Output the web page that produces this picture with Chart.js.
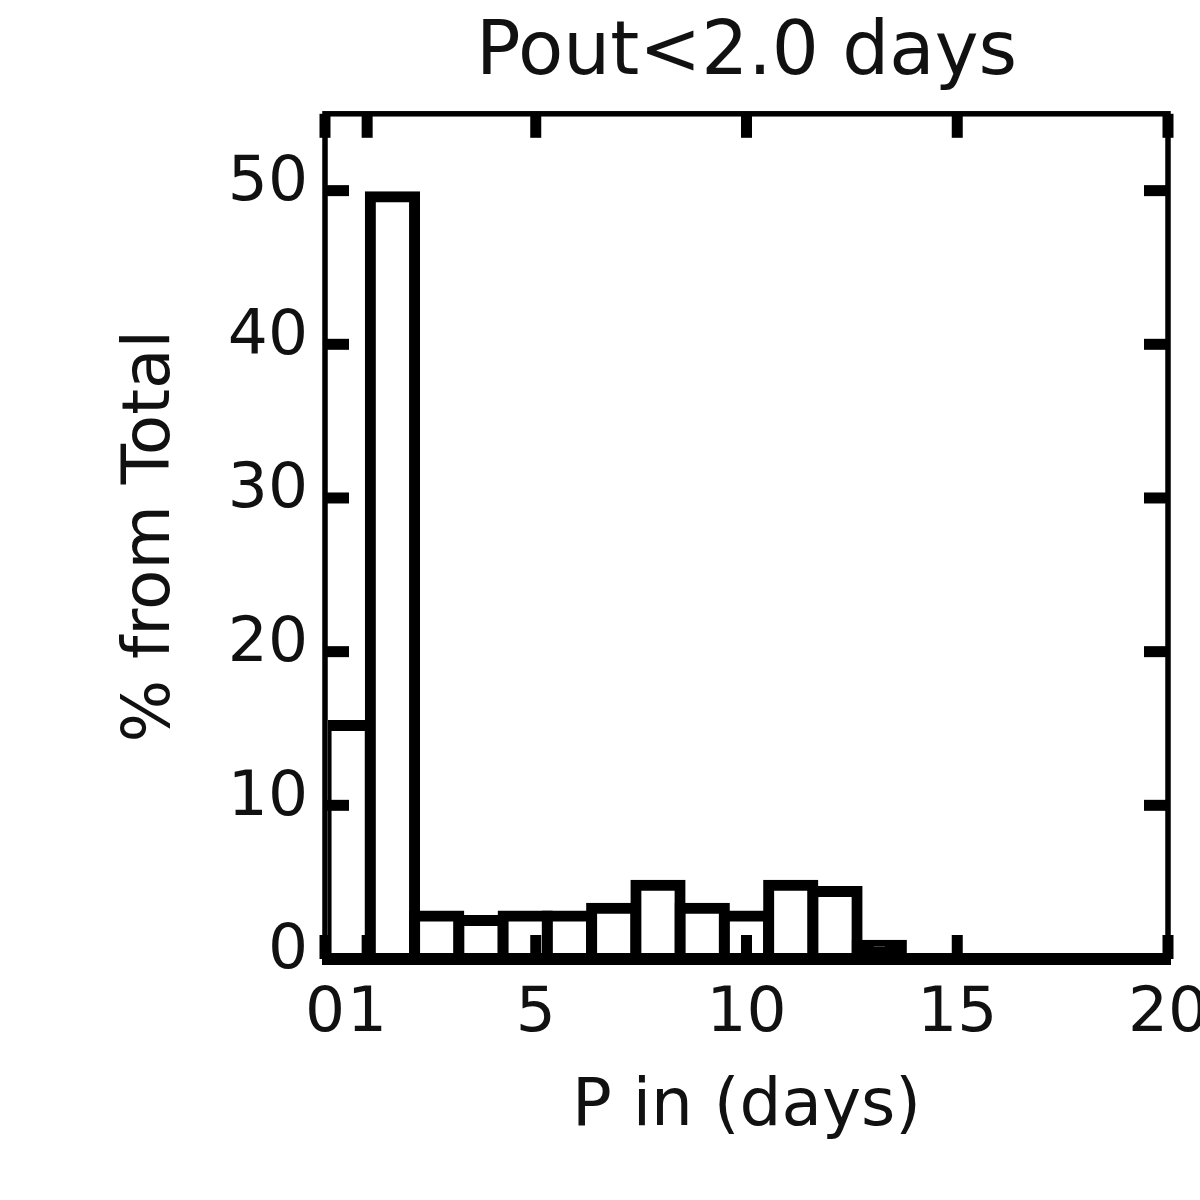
<!DOCTYPE html>
<html>
<head>
<meta charset="utf-8">
<script src="https://cdn.jsdelivr.net/npm/chart.js@4.4.0/dist/chart.umd.min.js"></script>
<style>
  html, body { margin: 0; padding: 0; background: #fff; }
  #wrap { width: 1200px; height: 1200px; }
</style>
</head>
<body>
<div id="wrap"><canvas id="histo" width="1200" height="1200"></canvas></div>
<script>
// histogram bins (centres, days) and share of total (%)
const binCenters = [0.55, 1.6, 2.65, 3.7, 4.75, 5.8, 6.85, 7.9, 8.95, 10.0, 11.05, 12.1, 13.15];
const percents   = [15.2, 49.6, 2.8, 2.5, 2.8, 2.8, 3.3, 4.8, 3.3, 2.8, 4.8, 4.4, 0.9];
const xTicks = [0, 1, 5, 10, 15, 20];
const yTicks = [0, 10, 20, 30, 40, 50];

const INK = '#111';
const EDGE = 11;

Chart.defaults.font.family = "'DejaVu Sans', sans-serif";
Chart.defaults.color = INK;

// box + inward tick marks on all four sides
const frame = {
    id: 'frame',
    afterDatasetsDraw(chart) {
        const ctx = chart.ctx;
        const a = chart.chartArea;
        const xt = chart.scales.xt;
        const y = chart.scales.y;
        const len = 24;
        const seg = (x1, y1, x2, y2) => {
            ctx.beginPath(); ctx.moveTo(x1, y1); ctx.lineTo(x2, y2); ctx.stroke();
        };
        ctx.save();
        ctx.strokeStyle = '#000';
        ctx.lineWidth = 5.5;
        ctx.strokeRect(a.left, a.top, a.right - a.left, a.bottom - a.top);
        // zero line is drawn as thick as the bar edges
        ctx.lineWidth = 12;
        const y0 = y.getPixelForValue(0);
        seg(a.left - 3, y0, a.right + 3, y0);
        ctx.lineWidth = EDGE;
        xt.ticks.forEach(t => {
            const px = xt.getPixelForValue(t.value);
            seg(px, a.bottom, px, a.bottom - len);
            seg(px, a.top, px, a.top + len);
        });
        y.ticks.forEach(t => {
            const py = y.getPixelForValue(t.value);
            seg(a.left, py, a.left + len, py);
            seg(a.right, py, a.right - len, py);
        });
        ctx.restore();
    }
};

new Chart(document.getElementById('histo'), {
    type: 'bar',
    data: {
        datasets: [{
            data: binCenters.map((c, i) => ({ x: c, y: percents[i] })),
            xAxisID: 'x',
            yAxisID: 'y',
            backgroundColor: (c) => {
                if (!c.parsed) return '#fff';
                const s = c.chart.scales.y;
                const h = s.getPixelForValue(0) - s.getPixelForValue(c.parsed.y);
                return h < EDGE * 1.5 ? '#000' : '#fff';
            },
            borderColor: '#000',
            borderWidth: EDGE,
            borderSkipped: false,
            inflateAmount: EDGE / 2,
            barPercentage: 1,
            categoryPercentage: 1,
            clip: { left: -3, top: false, right: false, bottom: false }
        }]
    },
    options: {
        responsive: false,
        animation: false,
        layout: { padding: { left: 0, right: 32, top: 0, bottom: 0 } },
        plugins: {
            legend: { display: false },
            tooltip: { enabled: false },
            title: {
                display: true,
                text: 'Pout<2.0 days',
                fullSize: false,
                color: INK,
                font: { size: 74, weight: 'normal' },
                padding: { top: 10, bottom: 15 }
            }
        },
        scales: {
            x: {
                type: 'linear',
                display: false,
                min: 0,
                max: 20,
                offset: false,
                ticks: { stepSize: 5 }
            },
            xt: {
                type: 'linear',
                position: 'bottom',
                min: 0,
                max: 20,
                offset: false,
                grid: { display: false, drawTicks: false, offset: false },
                border: { display: false },
                afterBuildTicks: s => { s.ticks = xTicks.map(v => ({ value: v })); },
                afterFit: s => { s.height = 241; s.paddingLeft = 0; s.paddingRight = 0; },
                ticks: {
                    autoSkip: false,
                    maxRotation: 0,
                    minRotation: 0,
                    padding: 18,
                    color: INK,
                    font: { size: 63 }
                },
                title: {
                    display: true,
                    text: 'P in (days)',
                    color: INK,
                    font: { size: 66 },
                    padding: { top: 0, bottom: 53 }
                }
            },
            y: {
                type: 'linear',
                min: 0,
                max: 55,
                grid: { display: false, drawTicks: false },
                border: { display: false },
                afterBuildTicks: s => { s.ticks = yTicks.map(v => ({ value: v })); },
                afterFit: s => { s.width = 325; s.paddingTop = 0; s.paddingBottom = 0; },
                ticks: {
                    padding: 17,
                    labelOffset: -7,
                    color: INK,
                    font: { size: 63 }
                },
                title: {
                    display: true,
                    text: '% from Total',
                    color: INK,
                    font: { size: 66 },
                    padding: { top: 112, bottom: 0 }
                }
            }
        }
    },
    plugins: [frame]
});
</script>
</body>
</html>
